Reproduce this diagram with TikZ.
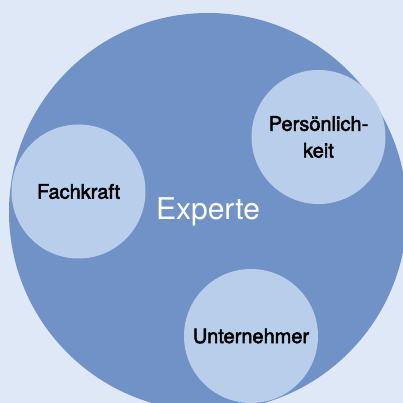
\documentclass[tikz,border=0pt]{standalone}
\usepackage{fontspec}
\setmainfont{TeX Gyre Heros}
\newfontfamily\labelfont{TeX Gyre Heros}[FakeBold=2.5]
\usepackage{tikz}
\usetikzlibrary{backgrounds}

\definecolor{paleblue}{RGB}{222,232,246}
\definecolor{darkblue}{RGB}{112,146,199}
\definecolor{lightblue}{RGB}{185,206,235}

\tikzset{
  outer/.style={circle, fill=darkblue, inner sep=0pt, minimum size=398pt, text=white, font=\fontsize{30}{36}\selectfont},
  inner/.style={circle, fill=lightblue, inner sep=0pt, minimum size=134pt, align=center, font=\labelfont\fontsize{20}{26.7}\selectfont}
}

\begin{document}
\begin{tikzpicture}[x=1pt,y=1pt]
\useasboundingbox (0,0) rectangle (403,403);
\fill[paleblue] (0,0) rectangle (403,403);
\clip (0,0) rectangle (403,403);
\node[outer] (experte) at (208,191) {Experte};
\node[inner] (fachkraft) at (78.5,211.5) {Fachkraft};
\node[inner] (persoenlichkeit) at (318.5,266) {Persönlich-\\keit};
\node[inner] (unternehmer) at (251,67) {Unternehmer};
\end{tikzpicture}
\end{document}
